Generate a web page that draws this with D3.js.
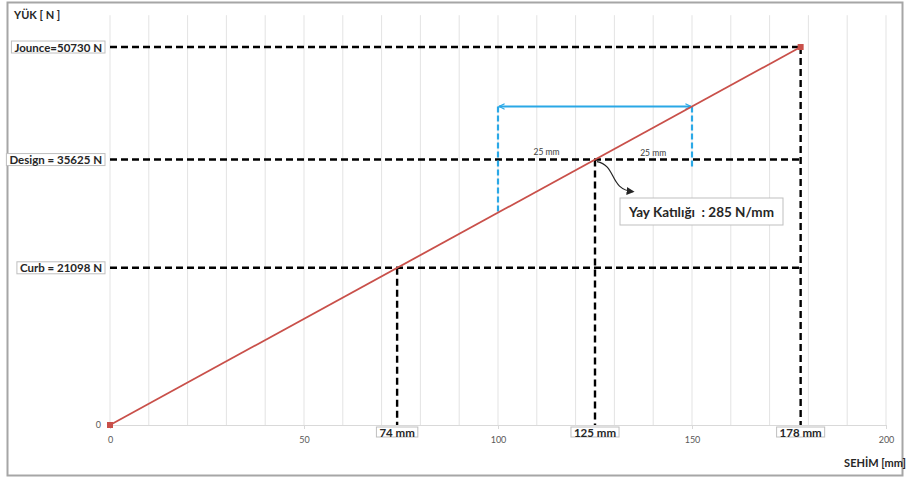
<!DOCTYPE html>
<html><head><meta charset="utf-8">
<script src="https://cdn.jsdelivr.net/npm/d3@7"></script>
<style>body{margin:0;background:#fff;}svg{display:block;font-family:Lato,"Open Sans",sans-serif;}</style>
</head><body><svg id="c" width="909" height="480"></svg>
<script>
// Data
const deflection = [0, 178];            // mm
const load = [0, 50730];                // N
const refNames = ["Jounce=50730 N", "Design = 35625 N", "Curb = 21098 N"];
const refLoads = [50730, 35625, 21098];
const refDefl = [178, 125, 74];
const refDeflLabels = ["178 mm", "125 mm", "74 mm"];
const xTicks = [0, 50, 100, 150, 200];
const yTicks = [0];
const bandDefl = [100, 150];
const bandLabels = ["25 mm", "25 mm"];
const stiffness = 285;
const stiffnessLabel = "Yay Katılığı  : 285 N/mm";

const svg = d3.select("#c");
const x = d3.scaleLinear().domain([0, 200]).range([110, 886]);
const y = d3.scaleLinear().domain([0, 55000]).range([425, 15.2]);

// frame
svg.append("rect").attr("x", 7.5).attr("y", 2.5).attr("width", 895).attr("height", 473)
  .attr("fill", "#fff").attr("stroke", "#a6a6a6").attr("stroke-width", 2);

// vertical gridlines
svg.append("g").selectAll("line").data(d3.range(0, 201, 10)).join("line")
  .attr("x1", d => x(d)).attr("x2", d => x(d)).attr("y1", y(55000)).attr("y2", y(0))
  .attr("stroke", "#e3e3e3").attr("stroke-width", 1);

// x axis
const xa = svg.append("g").attr("transform", `translate(0,${y(0)})`)
  .call(d3.axisBottom(x).tickValues(xTicks).tickSize(4).tickPadding(8).tickFormat(d3.format("d")));
xa.select(".domain").attr("stroke", "#d9d9d9");
xa.selectAll(".tick line").attr("stroke", "#d9d9d9");
xa.selectAll("text").attr("fill", "#595959").attr("font-size", 9).attr("font-family", "Lato,sans-serif");

// y axis labels
svg.append("g").selectAll("text").data(yTicks).join("text")
  .attr("x", 101).attr("y", d => y(d) + 3).attr("text-anchor", "end")
  .attr("fill", "#595959").attr("font-size", 9).text(d => d);

// dashed reference lines
const dash = "7,4";
refLoads.forEach((L, i) => {
  svg.append("line").attr("x1", x(0)).attr("x2", x(178)).attr("y1", y(L)).attr("y2", y(L))
    .attr("stroke", "#000").attr("stroke-width", 2.4).attr("stroke-dasharray", dash);
  svg.append("line").attr("x1", x(refDefl[i])).attr("x2", x(refDefl[i])).attr("y1", y(L)).attr("y2", y(0))
    .attr("stroke", "#000").attr("stroke-width", 2.4).attr("stroke-dasharray", dash);
});

// blue band
const blue = "#2aa8e6";
const defs = svg.append("defs");
defs.append("marker").attr("id", "ba").attr("viewBox", "0 0 10 10").attr("refX", 9).attr("refY", 5)
  .attr("markerWidth", 7).attr("markerHeight", 7).attr("orient", "auto-start-reverse").attr("markerUnits", "userSpaceOnUse")
  .append("path").attr("d", "M1,1 L9,5 L1,9").attr("fill", "none").attr("stroke", blue).attr("stroke-width", 1.6);
const yTop = y(stiffness * bandDefl[1]);
svg.append("line").attr("x1", x(bandDefl[0])).attr("x2", x(bandDefl[0]))
  .attr("y1", yTop).attr("y2", y(stiffness * bandDefl[0]))
  .attr("stroke", blue).attr("stroke-width", 2.2).attr("stroke-dasharray", "6,3");
svg.append("line").attr("x1", x(bandDefl[1])).attr("x2", x(bandDefl[1]))
  .attr("y1", yTop).attr("y2", y(35625) + 7)
  .attr("stroke", blue).attr("stroke-width", 2.2).attr("stroke-dasharray", "6,3");
svg.append("line").attr("x1", x(bandDefl[0]) + 1).attr("x2", x(bandDefl[1]) - 1).attr("y1", yTop).attr("y2", yTop)
  .attr("stroke", blue).attr("stroke-width", 2).attr("marker-start", "url(#ba)").attr("marker-end", "url(#ba)");

// band text
svg.append("text").attr("x", x(112.5)).attr("y", y(35625) - 5).attr("text-anchor", "middle")
  .attr("font-size", 8.5).attr("fill", "#404040").text(bandLabels[0]);
svg.append("text").attr("x", x(140)).attr("y", y(35625) - 4).attr("text-anchor", "middle")
  .attr("font-size", 8.5).attr("fill", "#404040").text(bandLabels[1]);

// red line
const pts = deflection.map((d, i) => [d, load[i]]);
svg.append("path").datum(pts)
  .attr("d", d3.line().x(d => x(d[0])).y(d => y(d[1])))
  .attr("fill", "none").attr("stroke", "#c9504a").attr("stroke-width", 1.8);
svg.append("g").selectAll("rect").data(pts).join("rect")
  .attr("x", d => x(d[0]) - 3).attr("y", d => y(d[1]) - 3).attr("width", 6).attr("height", 6)
  .attr("fill", "#c9504a");

// labels with boxes
function boxLabel(text, cx, cy, anchor, size, padX, padY, strokeCol) {
  const g = svg.append("g");
  const t = g.append("text").attr("x", cx).attr("y", cy).attr("text-anchor", anchor)
    .attr("dominant-baseline", "central").attr("font-size", size).attr("font-weight", "bold")
    .attr("fill", "#262626").text(text);
  const b = t.node().getBBox();
  g.insert("rect", "text").attr("x", b.x - padX).attr("y", b.y - padY + 0.5)
    .attr("width", b.width + 2 * padX).attr("height", b.height + 2 * padY - 1)
    .attr("fill", "#fff").attr("stroke", strokeCol).attr("stroke-width", 1);
  return g;
}
refNames.forEach((n, i) => boxLabel(n, 102, y(refLoads[i]), "end", 11.5, 3, 0, "#bfbfbf"));
refDeflLabels.forEach((n, i) => boxLabel(n, x(refDefl[i]), 432, "middle", 11.5, 3, -1, "#bfbfbf"));

// curved arrow
defs.append("marker").attr("id", "ka").attr("viewBox", "0 0 10 10").attr("refX", 8).attr("refY", 5)
  .attr("markerWidth", 8).attr("markerHeight", 8).attr("orient", "auto").attr("markerUnits", "userSpaceOnUse")
  .append("path").attr("d", "M0,0 L10,5 L0,10 z").attr("fill", "#262626");
svg.append("path").attr("d", `M${x(125) + 2},${y(35625) + 2} C ${x(125) + 22},${y(35625) + 6} ${x(125) + 14},${y(35625) + 30} ${x(125) + 38},${y(35625) + 32}`)
  .attr("fill", "none").attr("stroke", "#262626").attr("stroke-width", 1.2).attr("marker-end", "url(#ka)");

// stiffness box
const sg = svg.append("g");
sg.append("rect").attr("x", 620).attr("y", 198).attr("width", 163).attr("height", 27)
  .attr("fill", "#fff").attr("stroke", "#bfbfbf").attr("stroke-width", 1);
sg.append("text").attr("x", 701.5).attr("y", 212).attr("text-anchor", "middle").attr("dominant-baseline", "central")
  .attr("font-size", 13.5).attr("font-weight", "bold").attr("fill", "#262626").attr("xml:space", "preserve").text(stiffnessLabel);

// axis titles
svg.append("text").attr("x", 14).attr("y", 19).attr("font-size", 11).attr("font-weight", "bold")
  .attr("fill", "#262626").text("YÜK [ N ]");
svg.append("text").attr("x", 906).attr("y", 467).attr("text-anchor", "end").attr("font-size", 11).attr("font-weight", "bold")
  .attr("fill", "#262626").text("SEHİM [mm]");
</script></body></html>
